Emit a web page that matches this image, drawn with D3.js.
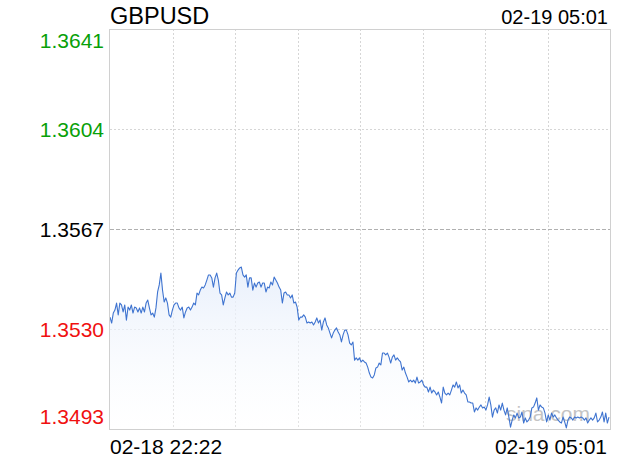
<!DOCTYPE html>
<html><head><meta charset="utf-8">
<script src="https://cdn.jsdelivr.net/npm/d3@7"></script>
<style>body{margin:0;background:#fff;}svg{display:block;font-family:"Liberation Sans",Arial,Helvetica,sans-serif;}</style>
</head><body><svg id="c" width="620" height="460"></svg>
<script>
const symbol = "GBPUSD";
const timeStart = "02-18 22:22";
const timeEnd = "02-19 05:01";
const prevClose = 1.3567;
const yTicks = [1.3493, 1.3530, 1.3567, 1.3604, 1.3641];
const prices = [
1.35344,1.35322,1.35359,1.35370,1.35396,1.35352,1.35396,1.35389,1.35363,1.35389,1.35333,1.35381,1.35370,1.35389,1.35359,1.35381,1.35378,1.35363,1.35378,1.35359,1.35381,1.35363,1.35396,1.35407,1.35378,1.35352,1.35359,1.35344,1.35378,1.35437,1.35463,1.35507,1.35444,1.35400,1.35415,1.35396,1.35352,1.35344,1.35370,1.35389,1.35396,1.35396,1.35378,1.35370,1.35381,1.35341,1.35363,1.35378,1.35381,
1.35370,1.35381,1.35396,1.35389,1.35433,1.35426,1.35444,1.35455,1.35452,1.35463,1.35481,1.35500,1.35500,1.35489,1.35455,1.35489,1.35507,1.35481,1.35433,1.35426,1.35389,1.35415,1.35437,1.35426,1.35433,1.35418,1.35418,1.35433,1.35507,1.35518,1.35526,1.35529,1.35500,1.35492,1.35500,1.35455,1.35489,1.35489,1.35444,1.35470,1.35455,1.35470,1.35474,1.35455,1.35470,1.35470,1.35437,1.35455,1.35452,1.35474,1.35463,1.35492,
1.35481,1.35470,1.35455,1.35444,1.35396,1.35433,1.35437,1.35426,1.35426,1.35415,1.35426,1.35396,1.35400,1.35381,1.35333,1.35344,1.35344,1.35352,1.35344,1.35322,1.35326,1.35322,1.35326,1.35315,1.35326,1.35341,1.35322,1.35333,1.35296,1.35326,1.35341,1.35315,1.35304,1.35285,1.35267,1.35285,1.35296,1.35304,1.35289,1.35278,1.35252,1.35278,1.35296,1.35296,1.35278,1.35248,1.35241,1.35252,1.35185,1.35193,1.35185,1.35193,
1.35178,1.35185,1.35178,1.35174,1.35159,1.35137,1.35122,1.35119,1.35130,1.35156,1.35159,1.35174,1.35167,1.35211,1.35211,1.35204,1.35211,1.35196,1.35174,1.35196,1.35204,1.35185,1.35193,1.35185,1.35178,1.35148,1.35159,1.35137,1.35122,1.35104,1.35111,1.35104,1.35111,1.35100,1.35122,1.35100,1.35104,1.35111,1.35093,1.35085,1.35085,1.35067,1.35085,1.35063,1.35074,1.35067,1.35056,1.35067,1.35048,1.35026,1.35085,
1.35063,1.35056,1.35063,1.35056,1.35074,1.35093,1.35085,1.35104,1.35082,1.35093,1.35063,1.35074,1.35063,1.35056,1.35030,1.35030,1.35026,1.35026,1.34993,1.35008,1.35000,1.35011,1.35019,1.35008,1.35011,1.35000,1.35019,1.35048,1.35019,1.34974,1.35000,1.35008,1.34989,1.35019,1.35000,1.35026,1.35000,1.34982,1.35008,1.34974,1.34937,1.34963,1.34982,1.34971,1.34989,1.34971,1.34974,1.34993,1.34952,1.34971,1.34956,
1.34963,1.34974,1.35008,1.35011,1.35026,1.35045,1.35000,1.35019,1.35011,1.35008,1.34989,1.34956,1.34982,1.34963,1.34989,1.34974,1.34982,1.34971,1.34963,1.34956,1.34952,1.34974,1.34956,1.34934,1.34963,1.34974,1.34971,1.34963,1.34974,1.34971,1.34974,1.34971,1.34974,1.34971,1.34963,1.34971,1.34952,1.34963,1.34971,1.34963,1.34971,1.34989,1.34956,1.34963,1.34974,1.34993,1.34956,1.34989,1.34952,1.34974
];

const svg = d3.select("#c");
const L = 110, R = 610, T = 29, B = 429;
const x = d3.scaleLinear().domain([0, prices.length - 1]).range([L, R - 1]);
const y = d3.scaleLinear().domain([yTicks[0], yTicks[yTicks.length - 1]]).range([B, T]);

const defs = svg.append("defs");
const grad = defs.append("linearGradient").attr("id", "g").attr("x1", 0).attr("x2", 0)
  .attr("gradientUnits", "userSpaceOnUse").attr("y1", y(d3.max(prices))).attr("y2", B);
grad.append("stop").attr("offset", 0).attr("stop-color", "#e6eefb").attr("stop-opacity", 0.9);
grad.append("stop").attr("offset", 1).attr("stop-color", "#ffffff").attr("stop-opacity", 0.3);

// vertical grid
const vg = d3.range(1, 8).map(i => L + (R - L) * i / 8);
svg.append("g").selectAll("line").data(vg).join("line")
  .attr("x1", d => Math.round(d) + 0.5).attr("x2", d => Math.round(d) + 0.5)
  .attr("y1", T).attr("y2", B)
  .attr("stroke", "#d6d6d6").attr("stroke-dasharray", "2,2");

// horizontal grid
svg.append("g").selectAll("line").data(yTicks.slice(1, -1)).join("line")
  .attr("x1", L).attr("x2", R)
  .attr("y1", d => Math.round(y(d)) + 0.5).attr("y2", d => Math.round(y(d)) + 0.5)
  .attr("stroke", d => d === prevClose ? "#b0b0b0" : "#d6d6d6")
  .attr("stroke-dasharray", d => d === prevClose ? "4,2" : "2,2");

// area
svg.append("path").datum(prices)
  .attr("d", d3.area().x((d, i) => x(i)).y0(B).y1(d => y(d)))
  .attr("fill", "url(#g)");

// watermark
svg.append("text").attr("x", 506).attr("y", 421).attr("font-size", 21)
  .attr("fill", "#c4c4c4").text("sina.com");

// line
svg.append("path").datum(prices)
  .attr("d", d3.line().x((d, i) => x(i)).y(d => y(d)))
  .attr("fill", "none").attr("stroke", "#3f74d0").attr("stroke-width", 1.1)
  .attr("stroke-linejoin", "round");

// frame
svg.append("rect").attr("x", L - 0.5).attr("y", T + 0.5).attr("width", R - L + 1).attr("height", B - T)
  .attr("fill", "none").attr("stroke", "#d0d0d0");

// y labels
svg.append("g").selectAll("text").data(yTicks).join("text")
  .attr("x", 104).attr("text-anchor", "end").attr("font-size", 21)
  .attr("y", (d, i) => i === 0 ? B - 5 : i === yTicks.length - 1 ? T + 19 : y(d) + 8)
  .attr("fill", d => d > prevClose ? "#08a008" : d < prevClose ? "#f01010" : "#000")
  .text(d => d3.format(".4f")(d));

// title & times
svg.append("text").attr("x", 110).attr("y", 24).attr("font-size", 23.5).attr("fill", "#000").text(symbol);
svg.append("text").attr("x", 608).attr("y", 24).attr("font-size", 20).attr("text-anchor", "end").attr("fill", "#000").text(timeEnd);
svg.append("text").attr("x", 110).attr("y", 454).attr("font-size", 21).attr("fill", "#000").text(timeStart);
svg.append("text").attr("x", 607).attr("y", 454).attr("font-size", 21).attr("text-anchor", "end").attr("fill", "#000").text(timeEnd);
</script></body></html>
